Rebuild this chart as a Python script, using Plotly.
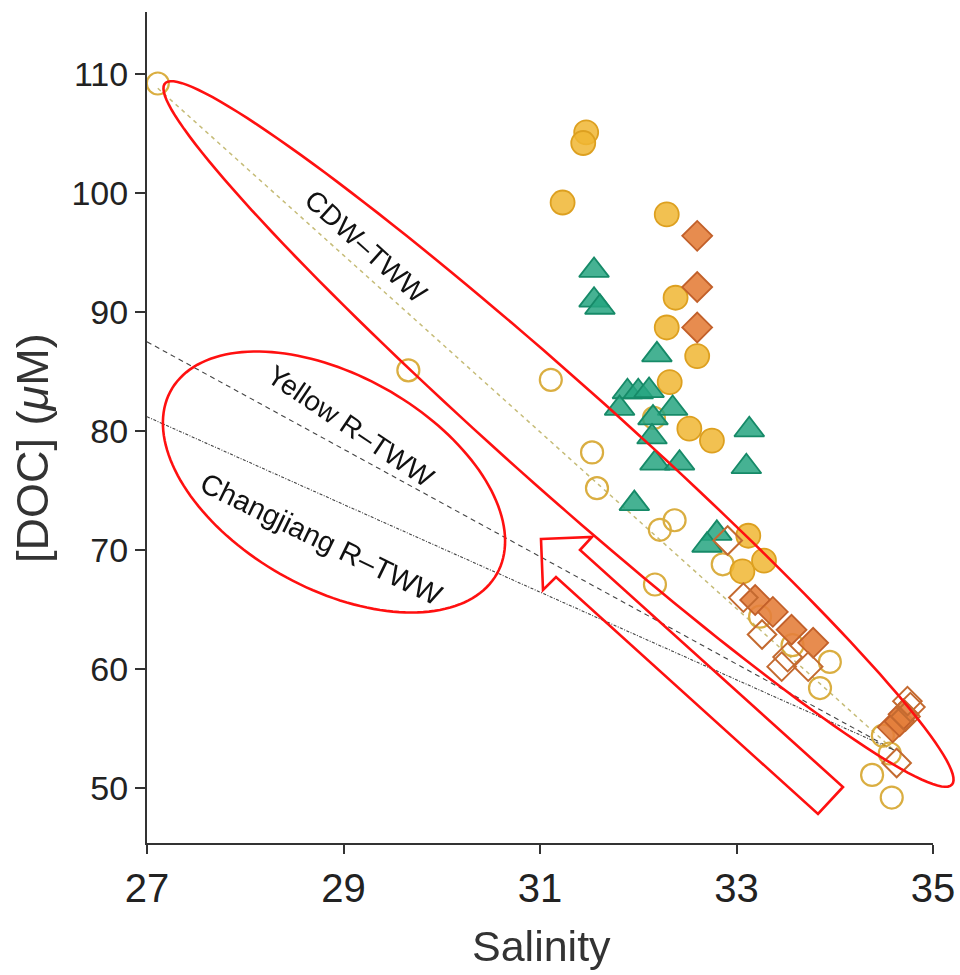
import numpy as np
import plotly.graph_objects as go

# ---------------- data ----------------
open_circle_x = [27.11, 29.66, 31.11, 31.53, 31.58, 32.16, 32.22, 32.37, 32.17, 32.86,
                 33.24, 33.57, 33.95, 33.85, 34.49, 34.56, 34.38, 34.58]
open_circle_y = [109.2, 85.1, 84.3, 78.2, 75.2, 81.1, 71.7, 72.5, 67.1, 68.8,
                 64.4, 62.0, 60.6, 58.4, 54.4, 52.9, 51.1, 49.2]

filled_circle_x = [31.47, 31.44, 31.23, 32.29, 32.38, 32.29, 32.60, 32.32, 32.52, 32.75,
                   33.12, 33.06, 33.28]
filled_circle_y = [105.1, 104.2, 99.2, 98.2, 91.2, 88.7, 86.3, 84.1, 80.2, 79.2,
                   71.2, 68.2, 69.1]

triangle_x = [31.55, 31.55, 31.61, 32.19, 31.89, 32.00, 32.11, 31.81, 32.35, 32.15,
              32.14, 33.13, 32.17, 32.42, 33.10, 31.96, 32.80, 32.70]
triangle_y = [93.5, 91.0, 90.4, 86.4, 83.3, 83.3, 83.4, 81.9, 81.9, 81.1,
              79.5, 80.1, 77.3, 77.3, 77.0, 73.9, 71.4, 70.4]

filled_diamond_x = [32.60, 32.60, 32.60, 33.19, 33.37, 33.56, 33.78, 34.59, 34.66, 34.70]
filled_diamond_y = [96.4, 92.1, 88.7, 65.8, 64.8, 63.3, 62.2, 55.1, 55.6, 56.2]

open_diamond_x = [32.91, 33.07, 33.26, 33.46, 33.52, 33.73, 34.74, 34.77, 34.72, 34.63]
open_diamond_y = [70.8, 66.0, 62.9, 60.2, 61.0, 60.2, 57.3, 56.8, 56.0, 52.1]

# mixing lines (end-members)
cdw_line_x = [27.11, 34.60]
cdw_line_y = [108.8, 53.2]
yellow_line_x = [27.0, 34.60]
yellow_line_y = [87.5, 53.2]
changjiang_line_x = [27.0, 34.60]
changjiang_line_y = [81.2, 53.2]

x_ticks = [27, 29, 31, 33, 35]
y_ticks = [50, 60, 70, 80, 90, 100, 110]

# ---------------- layout constants ----------------
W, H = 960, 975
L, R, T, B = 147, 27, 12, 132
PW, PH = W - L - R, H - T - B
FONT = "Liberation Sans, Arial, Helvetica, sans-serif"


def px2paper(px, py):
    return (px - L) / PW, (T + PH - py) / PH


def ellipse_path(cx, cy, a, b, ang_deg, n=160):
    th = np.linspace(0, 2 * np.pi, n)
    ang = np.radians(ang_deg)
    xs = cx + a * np.cos(th) * np.cos(ang) - b * np.sin(th) * np.sin(ang)
    ys = cy + a * np.cos(th) * np.sin(ang) + b * np.sin(th) * np.cos(ang)
    pts = [px2paper(x, y) for x, y in zip(xs, ys)]
    return "M " + " L ".join(f"{x:.5f},{y:.5f}" for x, y in pts) + " Z"


def poly_path(points):
    pts = [px2paper(x, y) for x, y in points]
    return "M " + " L ".join(f"{x:.5f},{y:.5f}" for x, y in pts) + " Z"


fig = go.Figure()

# lines
fig.add_trace(go.Scatter(x=cdw_line_x, y=cdw_line_y, mode="lines",
                         line=dict(color="#C6BC78", width=1.5, dash="4px,4px"),
                         hoverinfo="skip"))
fig.add_trace(go.Scatter(x=yellow_line_x, y=yellow_line_y, mode="lines",
                         line=dict(color="#444444", width=1.1, dash="5px,4px"),
                         hoverinfo="skip"))
fig.add_trace(go.Scatter(x=changjiang_line_x, y=changjiang_line_y, mode="lines",
                         line=dict(color="#444444", width=1.1, dash="3px,1.5px,1px,1.5px"),
                         hoverinfo="skip"))

# markers
fig.add_trace(go.Scatter(x=open_circle_x, y=open_circle_y, mode="markers",
                         marker=dict(symbol="circle-open", size=22, color="#D6A52C",
                                     line=dict(width=2.2, color="#D6A52C")), opacity=0.9))
fig.add_trace(go.Scatter(x=filled_circle_x, y=filled_circle_y, mode="markers",
                         marker=dict(symbol="circle", size=24, color="rgba(240,182,50,0.85)",
                                     line=dict(width=1.8, color="#DDA020"))))
fig.add_trace(go.Scatter(x=triangle_x, y=triangle_y, mode="markers",
                         marker=dict(symbol="triangle-up", size=26, color="rgba(38,165,128,0.85)",
                                     line=dict(width=1.8, color="#168A68"))))
fig.add_trace(go.Scatter(x=filled_diamond_x, y=filled_diamond_y, mode="markers",
                         marker=dict(symbol="diamond", size=23, color="rgba(228,128,60,0.9)",
                                     line=dict(width=1.8, color="#C2602A"))))
fig.add_trace(go.Scatter(x=open_diamond_x, y=open_diamond_y, mode="markers",
                         marker=dict(symbol="diamond-open", size=22, color="#C46A30",
                                     line=dict(width=2, color="#C46A30"))))

# red hand-drawn annotations
shapes = [
    dict(type="path", xref="paper", yref="paper",
         path=ellipse_path(558.5, 434, 527, 53, 41.7),
         line=dict(color="#FF1010", width=2.6)),
    dict(type="path", xref="paper", yref="paper",
         path=ellipse_path(334, 482, 187, 106.5, 29.4),
         line=dict(color="#FF1010", width=2.6)),
    dict(type="path", xref="paper", yref="paper",
         path=poly_path([(541, 539), (592, 537), (580, 550), (843, 787),
                         (818, 814), (556, 577), (543, 590)]),
         line=dict(color="#FF1010", width=2.6)),
]

annotations = []


def add_text(text, px, py, angle, size):
    x, y = px2paper(px, py)
    annotations.append(dict(text=text, x=x, y=y, xref="paper", yref="paper",
                            showarrow=False, textangle=angle, xanchor="center",
                            yanchor="middle", font=dict(family=FONT, size=size, color="#111")))


add_text("CDW–TWW", 366, 246, 42, 28)
add_text("Yellow R–TWW", 351, 426, 34, 28)
add_text("Changjiang R–TWW", 321, 539, 26, 29)

# axis titles
xt, yt = px2paper(541, 946)
annotations.append(dict(text="Salinity", x=xt, y=yt, xref="paper", yref="paper",
                        showarrow=False, xanchor="center", yanchor="middle",
                        font=dict(family=FONT, size=43, color="#333")))
xt, yt = px2paper(32, 448)
annotations.append(dict(text="[DOC] (<i>μ</i>M)", x=xt, y=yt, xref="paper", yref="paper",
                        showarrow=False, xanchor="center", yanchor="middle", textangle=-90,
                        font=dict(family=FONT, size=45, color="#333")))

fig.update_layout(
    width=W, height=H,
    margin=dict(l=L, r=R, t=T, b=B, autoexpand=False),
    paper_bgcolor="white", plot_bgcolor="white",
    showlegend=False,
    shapes=shapes, annotations=annotations,
    font=dict(family=FONT),
)
fig.update_xaxes(range=[27, 35], tickvals=x_ticks, ticktext=[str(v) for v in x_ticks],
                 ticks="outside", ticklen=9, tickwidth=2, tickcolor="#333",
                 showline=True, linewidth=2, linecolor="#333",
                 showgrid=False, zeroline=False, automargin=False,
                 tickfont=dict(family=FONT, size=40, color="#222"))
fig.update_yaxes(range=[45.38, 115.21], tickvals=y_ticks, ticktext=[str(v) for v in y_ticks],
                 ticks="outside", ticklen=10, tickwidth=2, tickcolor="#333",
                 showline=True, linewidth=2, linecolor="#333",
                 showgrid=False, zeroline=False, automargin=False,
                 tickfont=dict(family=FONT, size=34, color="#222"))

fig.write_html("out.html")
